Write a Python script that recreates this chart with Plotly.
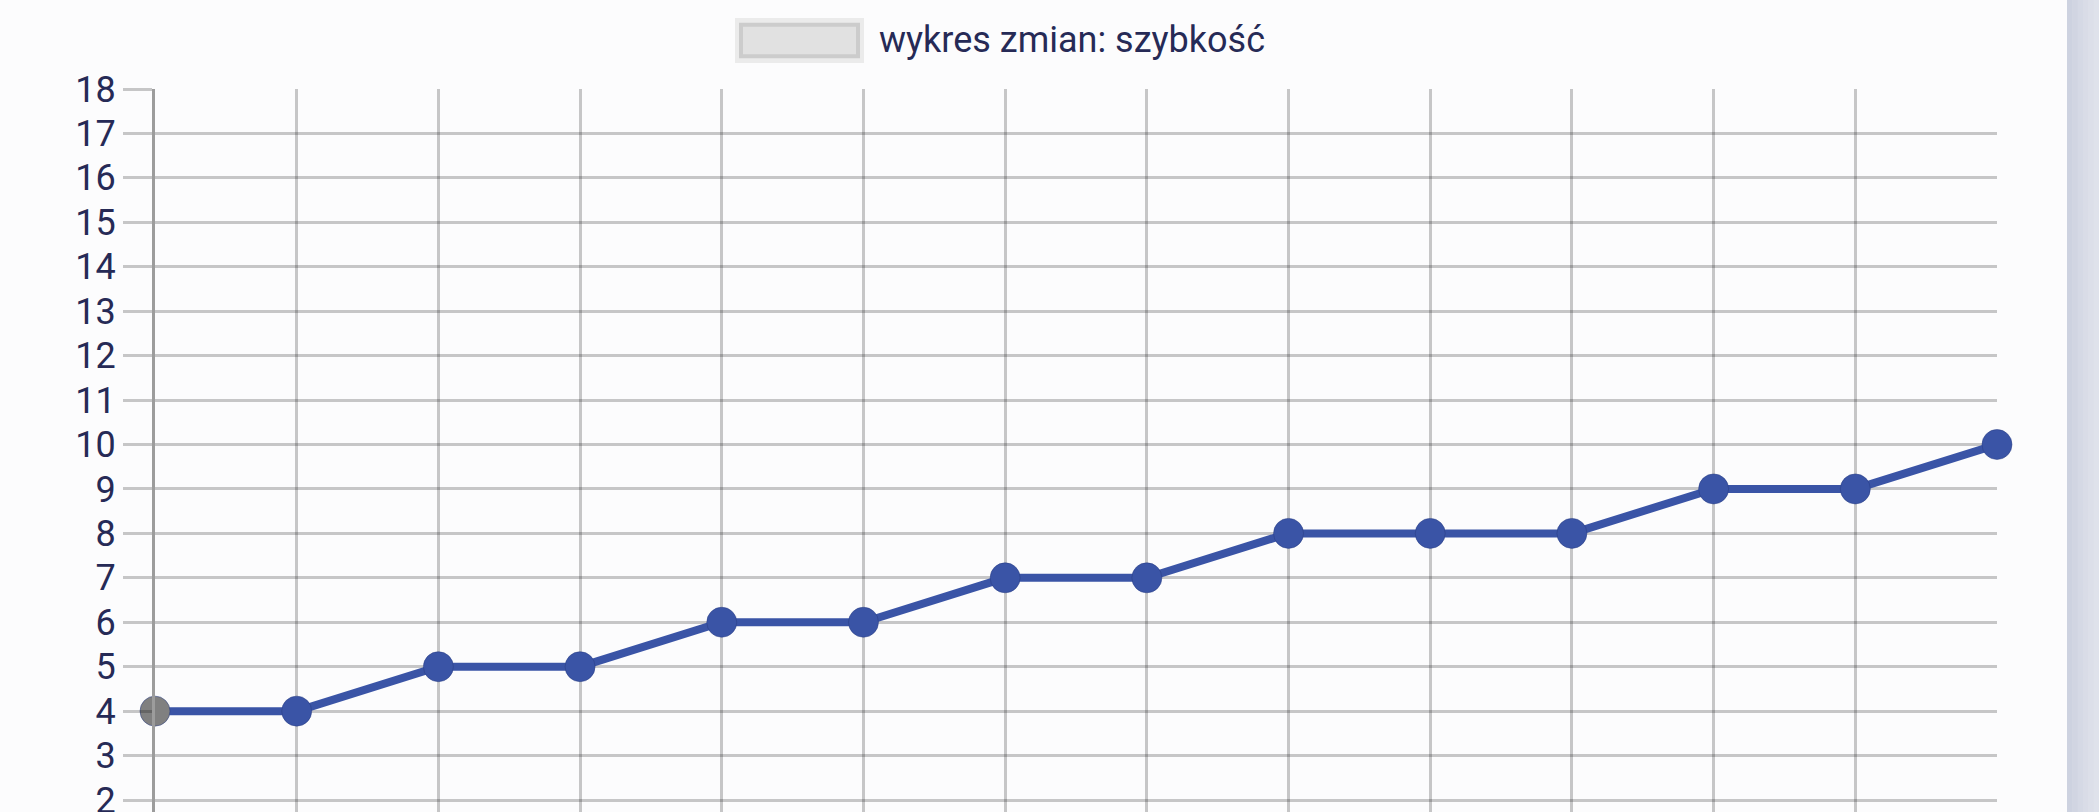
import plotly.graph_objects as go

# dane wykresu
punkty = list(range(14))
szybkosc = [4, 4, 5, 5, 6, 6, 7, 7, 8, 8, 8, 9, 9, 10]
y_ticks = list(range(2, 19))
legend_label = "wykres zmian: szybkość"

W, H = 2099, 812
L, R, T, B = 155, 102, 89, 0

BLUE = "#3a54a6"
GRAY_PT = "#808080"
TEXT = "#262a56"
GRID = "rgba(0,0,0,0.21)"
BG = "#fcfcfd"


def px_x(x):
    # piksel -> współrzędne paper
    return (x - L) / (W - L - R)


def px_y(y):
    return (H - B - y) / (H - T - B)


colors = [GRAY_PT] + [BLUE] * (len(szybkosc) - 1)

fig = go.Figure()
fig.add_trace(go.Scatter(
    x=punkty,
    y=szybkosc,
    mode="lines+markers",
    name=legend_label,
    line=dict(color=BLUE, width=8),
    marker=dict(size=30, color=colors, line=dict(color="rgba(40,60,130,0.5)", width=1)),
    showlegend=False,
    cliponaxis=False,
))

shapes = [
    # ramka legendy
    dict(type="rect", xref="paper", yref="paper",
         x0=px_x(735), x1=px_x(864), y0=px_y(63), y1=px_y(18),
         fillcolor="#ebebeb", line=dict(width=0)),
    dict(type="rect", xref="paper", yref="paper",
         x0=px_x(741), x1=px_x(858), y0=px_y(56.3), y1=px_y(24.7),
         fillcolor="#e1e1e1", line=dict(color="#cccccc", width=4)),
]

# pasek po prawej (gradient przybliżony pasmami)
strip = ["#cdd2e0", "#d1d5e2", "#d5d9e5", "#d9dce7", "#dcdfe9", "#dfe2eb"]
x0 = 2067
step = (W - x0) / len(strip)
for i, c in enumerate(strip):
    shapes.append(dict(type="rect", xref="paper", yref="paper",
                       x0=px_x(x0 + i * step), x1=px_x(x0 + (i + 1) * step + 0.5),
                       y0=px_y(H), y1=px_y(0),
                       fillcolor=c, line=dict(width=0), layer="above"))

fig.update_layout(
    width=W, height=H,
    margin=dict(l=L, r=R, t=T, b=B, pad=0, autoexpand=False),
    paper_bgcolor=BG,
    plot_bgcolor=BG,
    font=dict(family="Roboto", size=36, color=TEXT),
    shapes=shapes,
    annotations=[dict(
        text=legend_label, xref="paper", yref="paper",
        x=px_x(877), y=px_y(40), xanchor="left", yanchor="middle",
        showarrow=False, font=dict(family="Roboto", size=36, color=TEXT),
    )],
    xaxis=dict(
        range=[0, 13], tickmode="linear", tick0=0, dtick=1,
        showticklabels=False, ticks="", automargin=False,
        showgrid=True, gridcolor=GRID, gridwidth=3,
        zeroline=False, showline=False, fixedrange=True,
    ),
    yaxis=dict(
        range=[1.73, 18], tickmode="array", tickvals=y_ticks,
        ticks="outside", ticklen=29, tickwidth=3, tickcolor=GRID,
        ticklabeloverflow="allow", automargin=False,
        showgrid=True, gridcolor=GRID, gridwidth=3,
        zeroline=False, showline=True, linecolor="#9c9c9c", linewidth=3,
        tickfont=dict(family="Roboto", size=36, color=TEXT),
        fixedrange=True,
    ),
    hovermode=False,
)

# bez marginesu strony, żeby wykres zaczynał się w rogu okna
fig.write_html(
    "out.html",
    config={"displayModeBar": False},
    post_script="document.body.style.margin='0';document.body.style.overflow='hidden';"
                "document.body.style.background='%s';" % BG,
)
